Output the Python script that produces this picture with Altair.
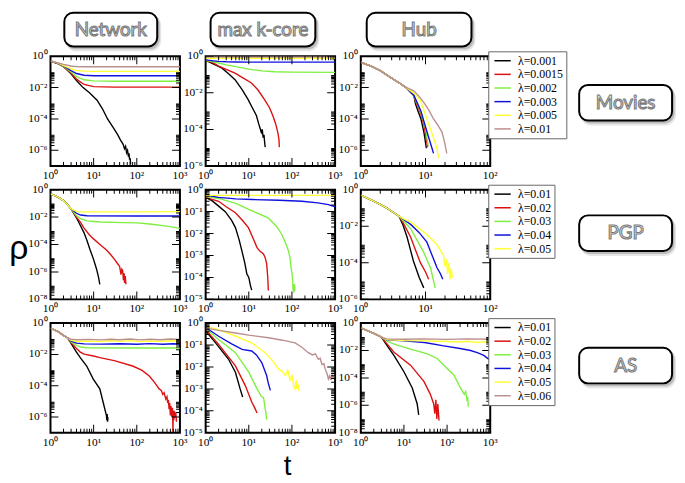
import altair as alt
import pandas as pd

W, H = 131, 111
COLORS = ['#000000', '#dd1111', '#7fef3f', '#1111dd', '#ffff33', '#bc8f8f']

movies_lams = ['λ=0.001', 'λ=0.0015', 'λ=0.002', 'λ=0.003', 'λ=0.005', 'λ=0.01']
pgp_lams = ['λ=0.01', 'λ=0.02', 'λ=0.03', 'λ=0.04', 'λ=0.05']
as_lams = ['λ=0.01', 'λ=0.02', 'λ=0.03', 'λ=0.04', 'λ=0.05', 'λ=0.06']

# values are log10(rho)
# ---------------- Movies / Network ----------------
mn_tp = [1, 1.5, 2, 3, 4, 6, 10, 30, 100, 300, 1000]
mn_t0 = [1, 1.5, 2, 3, 4, 5.7, 8, 12, 16, 21, 28, 36, 42, 48, 52, 55, 58, 61, 64, 66, 68, 70, 72]
mn_r0 = [-0.30, -0.47, -0.66, -1.12, -1.55, -2.0, -2.33, -2.8, -3.35, -4.0, -4.52, -5.0, -5.35, -5.6, -5.9, -5.75, -6.15, -6.0, -6.4, -6.2, -6.6, -6.5, -6.9]
mn_r1 = [-0.30, -0.47, -0.66, -1.07, -1.46, -1.80, -1.94, -1.97, -1.97, -1.97, -1.97]
mn_r2 = [-0.30, -0.47, -0.64, -1.0, -1.30, -1.50, -1.57, -1.59, -1.59, -1.59, -1.59]
mn_r3 = [-0.30, -0.46, -0.62, -0.92, -1.10, -1.21, -1.24, -1.24, -1.24, -1.24, -1.24]
mn_r4 = [-0.30, -0.44, -0.59, -0.80, -0.90, -0.95, -0.96, -0.96, -0.96, -0.96, -0.96]
mn_r5 = [-0.30, -0.42, -0.52, -0.62, -0.66, -0.67, -0.67, -0.67, -0.67, -0.67, -0.67]

# ---------------- Movies / max k-core ----------------
mk_t0 = [1, 1.5, 2.4, 3.5, 4.8, 7, 9.6, 12, 15, 17, 19.5, 20.5, 21.5, 22.5, 23.5, 24]
mk_r0 = [-0.22, -0.42, -0.65, -0.98, -1.28, -1.82, -2.36, -2.8, -3.24, -3.7, -4.16, -4.0, -4.45, -4.3, -4.8, -4.97]
mk_t1 = [1, 1.5, 2, 3, 4.8, 7, 11.5, 16, 23, 30, 36, 42, 47, 50, 51]
mk_r1 = [-0.22, -0.36, -0.54, -0.72, -0.92, -1.15, -1.46, -1.82, -2.36, -2.8, -3.24, -3.7, -4.16, -4.55, -4.97]
mk_t2 = [1, 1.5, 2, 3, 5, 10, 20, 40, 100, 1000]
mk_r2 = [-0.22, -0.3, -0.37, -0.47, -0.57, -0.70, -0.80, -0.85, -0.87, -0.88]
mk_t3 = [1, 1.5, 2, 3, 5, 10, 100, 1000]
mk_r3 = [-0.2, -0.25, -0.28, -0.30, -0.31, -0.32, -0.32, -0.32]
mk_t4 = [1, 10, 100, 1000]
mk_r4 = [-0.11, -0.11, -0.11, -0.11]
mk_t5 = [1, 10, 100, 1000]
mk_r5 = [-0.03, -0.03, -0.03, -0.03]

# ---------------- Movies / Hub ----------------
mh_t0 = [1, 1.5, 2, 3, 4, 5, 6.6, 7, 7.5, 8.5, 9.5, 10.3]
mh_r0 = [-0.38, -0.66, -0.92, -1.4, -1.72, -2.0, -2.5, -3.04, -3.4, -4.0, -4.9, -5.87]
mh_t1 = [1, 1.5, 2, 3, 4, 5, 6.6, 7.2, 8.5, 9.5, 10.5, 10.8]
mh_r1 = [-0.38, -0.66, -0.92, -1.4, -1.72, -2.0, -2.5, -3.0, -3.7, -4.4, -5.5, -5.8]
mh_t2 = [1, 1.5, 2, 3, 4, 5, 6.6, 7.3, 8.7, 10, 11]
mh_r2 = [-0.38, -0.66, -0.92, -1.4, -1.72, -2.0, -2.5, -2.95, -3.7, -4.6, -5.7]
mh_t3 = [1, 1.5, 2, 3, 4, 5, 6.6, 7.4, 8.5, 10.5, 12.6, 13.3]
mh_r3 = [-0.38, -0.66, -0.92, -1.4, -1.72, -2.0, -2.48, -2.94, -3.5, -4.8, -5.87, -6.2]
mh_t4 = [1, 1.5, 2, 3, 4, 5, 6.6, 8.3, 10.3, 11.8, 13.5, 15, 16]
mh_r4 = [-0.38, -0.66, -0.92, -1.4, -1.72, -2.0, -2.35, -2.8, -3.9, -4.6, -5.3, -5.87, -6.5]
mh_t5 = [1, 1.5, 2, 3, 4, 5, 6.6, 8.5, 10, 11.5, 13.3, 15.5, 17.9, 19.5, 21.3]
mh_r5 = [-0.38, -0.66, -0.92, -1.4, -1.72, -1.98, -2.2, -2.7, -3.1, -3.5, -4.0, -4.4, -4.82, -5.4, -6.2]

# ---------------- PGP / Network ----------------
pn_t0 = [1, 1.5, 2, 2.4, 3, 4, 5, 6, 7, 8.3, 10, 11.7, 13, 13.9]
pn_r0 = [-0.3, -0.55, -0.8, -1.05, -1.4, -2.05, -2.65, -3.15, -3.7, -4.4, -5.1, -5.8, -6.4, -6.9]
pn_t1 = [1, 1.5, 2, 2.4, 3, 4, 5, 6, 8, 9.8, 14, 19.8, 25, 30.7, 36, 40, 42, 43, 45, 47, 49, 51, 52, 54, 56]
pn_r1 = [-0.3, -0.55, -0.8, -1.05, -1.4, -2.0, -2.4, -2.8, -3.3, -3.57, -4.0, -4.4, -4.75, -5.1, -5.4, -5.6, -6.0, -6.2, -5.8, -5.9, -6.6, -6.1, -6.8, -6.3, -6.9]
pn_t2 = [1, 1.5, 2, 2.4, 3, 4, 5, 7, 14, 50, 100, 200, 500, 1000]
pn_r2 = [-0.3, -0.55, -0.8, -1.05, -1.4, -1.9, -2.12, -2.28, -2.36, -2.4, -2.42, -2.5, -2.66, -2.82]
pn_t3 = [1, 1.5, 2, 2.4, 3, 4, 5, 7, 100, 1000]
pn_r3 = [-0.3, -0.55, -0.8, -1.05, -1.4, -1.72, -1.85, -1.9, -1.92, -1.92]
pn_t4 = [1, 1.5, 2, 2.4, 3, 4, 5, 10, 100, 1000]
pn_r4 = [-0.3, -0.55, -0.8, -1.05, -1.4, -1.58, -1.62, -1.62, -1.62, -1.6]

# ---------------- PGP / max k-core ----------------
pk_t0 = [1, 1.4, 2, 2.85, 4, 4.9, 6, 6.9, 8, 9, 10, 11, 11.7]
pk_r0 = [-0.35, -0.5, -0.75, -1.0, -1.4, -1.73, -2.3, -2.78, -3.3, -3.83, -4.0, -4.4, -4.58]
pk_t1 = [1, 2, 3, 4.9, 7, 9.8, 12.5, 15.4, 18, 21.9, 24, 26, 27.5, 28.4]
pk_r1 = [-0.35, -0.53, -0.78, -1.05, -1.38, -1.73, -2.2, -2.63, -2.8, -2.93, -3.1, -3.38, -4.0, -4.6]
pk_t2 = [1, 2, 5, 10, 28, 45, 58, 70, 83, 90, 95, 100, 104, 106, 108, 111, 114, 118]
pk_r2 = [-0.3, -0.4, -0.62, -0.9, -1.28, -1.7, -2.03, -2.4, -2.78, -3.1, -3.53, -3.8, -4.1, -4.6, -4.4, -4.7, -4.3, -4.6]
pk_t3 = [1, 2, 5, 12, 50, 170, 400, 700, 1000]
pk_r3 = [-0.25, -0.35, -0.42, -0.45, -0.48, -0.53, -0.6, -0.68, -0.78]
pk_t4 = [1, 10, 100, 1000]
pk_r4 = [-0.26, -0.26, -0.26, -0.26]

# ---------------- PGP / Hub ----------------
ph_t0 = [1, 1.8, 2.5, 3.2, 3.9, 4.5, 5.2, 6.5, 8, 9.4]
ph_r0 = [-0.3, -0.72, -1.0, -1.25, -1.45, -1.95, -2.6, -3.9, -4.8, -5.37]
ph_t1 = [1, 1.8, 2.5, 3.2, 3.9, 4.5, 5.9, 7, 8.3, 10, 11.2]
ph_r1 = [-0.3, -0.72, -1.0, -1.25, -1.45, -1.8, -2.6, -3.3, -3.98, -4.5, -4.9]
ph_t2 = [1, 1.8, 2.5, 3.2, 3.9, 4.5, 5.9, 7.5, 9.4, 12, 14.1]
ph_r2 = [-0.3, -0.72, -1.0, -1.25, -1.45, -1.7, -2.13, -2.8, -3.43, -4.3, -5.37]
ph_t3 = [1, 1.8, 2.5, 3.2, 3.9, 4.5, 5.9, 8, 10.5, 15, 17, 18.5]
ph_r3 = [-0.3, -0.72, -1.0, -1.25, -1.45, -1.62, -1.9, -2.35, -2.87, -4.26, -4.6, -4.9]
ph_t4 = [1, 1.8, 2.5, 3.2, 3.9, 4.5, 5.9, 7.5, 10.5, 15, 19, 20, 21, 22, 23, 24, 25, 26]
ph_r4 = [-0.3, -0.72, -1.0, -1.25, -1.45, -1.58, -1.78, -2.05, -2.45, -3.0, -3.61, -4.2, -3.8, -4.6, -4.0, -4.9, -4.3, -4.8]

# ---------------- AS / Network ----------------
an_t0 = [1, 1.5, 2, 2.5, 3, 4, 4.9, 6.9, 9.8, 13.9, 16.6, 19.8, 20.2, 20.6, 21, 21.5]
an_r0 = [-0.32, -0.55, -0.78, -0.95, -1.3, -1.85, -2.2, -2.74, -3.58, -4.2, -5.05, -5.9, -6.2, -5.8, -6.3, -6.0]
an_t1 = [1, 1.5, 2, 2.5, 3, 4, 4.9, 6, 10, 13.9, 30, 80, 130, 195, 260, 330, 370, 400, 430, 470, 500, 520, 540,
         560, 580, 600, 620, 650, 670, 690, 700, 720, 740, 770, 800, 830]
an_r1 = [-0.32, -0.55, -0.78, -0.95, -1.25, -1.62, -1.85, -1.98, -2.1, -2.2, -2.4, -2.74, -3.0, -3.38, -3.8, -4.2, -4.3,
         -4.55, -4.45, -4.85, -4.7, -5.1, -4.9, -5.5, -5.1, -5.9, -5.3, -6.0, -5.4, -6.95, -5.6, -6.2, -5.6, -6.0, -5.7, -6.3]
an_t2 = [1, 1.5, 2, 2.5, 3, 4, 5, 7, 100, 1000]
an_r2 = [-0.32, -0.55, -0.78, -0.95, -1.2, -1.42, -1.53, -1.58, -1.59, -1.59]
an_t3 = [1, 1.5, 2, 2.5, 3, 4, 6, 15, 40, 100, 200, 400, 700, 1000]
an_r3 = [-0.32, -0.55, -0.78, -0.95, -1.15, -1.28, -1.33, -1.34, -1.32, -1.35, -1.31, -1.35, -1.32, -1.34]
an_t4 = [1, 1.5, 2, 2.5, 3, 4, 8, 15, 25, 40, 70, 120, 200, 350, 600, 1000]
an_r4 = [-0.32, -0.55, -0.78, -0.95, -1.1, -1.16, -1.15, -1.18, -1.13, -1.17, -1.12, -1.18, -1.14, -1.17, -1.13, -1.16]
an_t5 = [1, 1.5, 2, 2.5, 3, 4, 8, 15, 25, 40, 70, 120, 200, 350, 600, 1000]
an_r5 = [-0.32, -0.55, -0.78, -0.95, -1.03, -1.06, -1.04, -1.07, -1.03, -1.06, -1.02, -1.07, -1.03, -1.06, -1.02, -1.05]

# ---------------- AS / max k-core ----------------
ak_t0 = [1, 1.7, 3.4, 4.9, 6.3, 7.2]
ak_r0 = [-0.35, -0.9, -1.65, -2.24, -3.0, -3.37]
ak_t1 = [1, 2, 4.9, 8.3, 11.7, 14, 15.5]
ak_r1 = [-0.3, -0.97, -1.95, -2.85, -3.6, -3.9, -4.1]
ak_t2 = [1, 2, 4.9, 10, 15.5, 20, 22, 24, 25, 26]
ak_r2 = [-0.25, -0.75, -1.35, -2.24, -3.0, -3.37, -3.4, -3.9, -4.1, -4.4]
ak_t3 = [1, 2, 4, 7, 11.7, 15, 20, 26, 28, 31.6]
ak_r3 = [-0.2, -0.6, -0.95, -1.2, -1.27, -1.45, -1.8, -2.4, -2.7, -3.07]
ak_t4 = [1, 2, 5, 11.7, 24, 35, 49, 60, 70, 80, 90, 100, 110, 118, 125, 130, 140, 145]
ak_r4 = [-0.15, -0.3, -0.6, -0.9, -1.35, -1.7, -2.1, -2.2, -2.4, -2.15, -2.6, -2.35, -2.9, -3.0, -2.6, -3.0, -2.8, -3.1]
ak_t5 = [1, 2, 4.9, 10, 29, 60, 118, 170, 240, 300, 350, 410, 450, 500, 550, 590, 650, 700, 750, 800, 850, 900, 950]
ak_r5 = [-0.22, -0.33, -0.45, -0.55, -0.67, -0.78, -0.9, -1.1, -1.35, -1.45, -1.4, -1.65, -1.6, -1.9, -1.85, -2.1, -2.3,
         -2.55, -2.4, -2.6, -2.35, -2.5, -2.4]

# ---------------- AS / Hub ----------------
ah_t0 = [1, 2, 3, 4, 5.9, 10, 15.6, 20.3, 22]
ah_r0 = [-0.35, -0.75, -1.02, -1.6, -2.37, -3.55, -4.73, -5.9, -6.7]
ah_t1 = [1, 2, 3, 4, 5.9, 14.2, 29, 41, 49, 52, 55, 58, 61, 65]
ah_r1 = [-0.35, -0.75, -1.02, -1.5, -2.13, -3.07, -4.25, -5.2, -5.9, -6.6, -5.6, -7.0, -5.9, -7.1]
ah_t2 = [1, 2, 3, 4, 5.9, 14.2, 35, 60, 84, 144, 204, 250, 270, 290, 300, 310]
ah_r2 = [-0.35, -0.75, -1.02, -1.3, -1.53, -1.9, -2.24, -2.6, -3.07, -3.78, -4.73, -5.2, -5.0, -5.67, -5.4, -6.1]
ah_t3 = [1, 2, 3, 4, 10, 30, 84, 200, 350, 500, 710, 1000]
ah_r3 = [-0.35, -0.75, -1.02, -1.22, -1.3, -1.42, -1.66, -1.85, -2.0, -2.15, -2.36, -2.72]
ah_t4 = [1, 2, 3, 4, 10, 30, 100, 200, 300, 500, 700, 1000]
ah_r4 = [-0.35, -0.75, -1.02, -1.2, -1.28, -1.3, -1.34, -1.38, -1.33, -1.42, -1.36, -1.42]
ah_t5 = [1, 2, 3, 4, 10, 30, 100, 300, 1000]
ah_r5 = [-0.35, -0.75, -1.02, -1.15, -1.18, -1.15, -1.19, -1.15, -1.18]

col_titles = ['Network', 'max k-core', 'Hub']
row_titles = ['Movies', 'PGP', 'AS']
tick_label_text = ['10³', '10²', '10¹', '10⁰', '10⁻¹', '10⁻²', '10⁻³', '10⁻⁴', '10⁻⁵', '10⁻⁶', '10⁻⁷', '10⁻⁸']
tick_label_exp = [3, 2, 1, 0, -1, -2, -3, -4, -5, -6, -7, -8]
LAB = dict(zip(tick_label_exp, tick_label_text))
LFONT = 'Liberation Serif'


def series_df(lams, ts, lgs):
    rows = []
    for lam, tt, lg in zip(lams, ts, lgs):
        for a, b in zip(tt, lg):
            rows.append({'lam': lam, 't': a, 'rho': 10.0 ** b})
    return pd.DataFrame(rows)


def tick_rows(lo, hi, step, field):
    rows = []
    for k in range(lo, hi + 1):
        if k % step == 0:
            rows.append({field: 10.0 ** k, 'len': 16})
            if k < hi:
                for m in range(2, 10):
                    rows.append({field: m * 10.0 ** k, 'len': 8})
    return pd.DataFrame(rows)


def make_legend():
    return alt.Legend(orient='none', legendX=129, legendY=-5, title=None,
                      symbolType='M-1.5,0H1.5', symbolSize=121, symbolStrokeWidth=1.5,
                      labelFont=LFONT, labelFontSize=12, labelColor='black',
                      fillColor='white', strokeColor='#666666', padding=3, rowPadding=0.8,
                      symbolOffset=5, labelOffset=9, labelLimit=200)


def box(x0, x1, y0, y1, label, fs=19):
    d = pd.DataFrame({'label': [label]})
    s2 = alt.Chart(d).mark_rect(cornerRadius=11, color='#000000', opacity=0.10).encode(
        x=alt.value(x0 + 1), x2=alt.value(x1 + 4), y=alt.value(y0 + 2), y2=alt.value(y1 + 5))
    s1 = alt.Chart(d).mark_rect(cornerRadius=10, color='#000000', opacity=0.18).encode(
        x=alt.value(x0 + 1), x2=alt.value(x1 + 2.5), y=alt.value(y0 + 1), y2=alt.value(y1 + 3))
    rect = alt.Chart(d).mark_rect(cornerRadius=9, fill='white', stroke='black', strokeWidth=2).encode(
        x=alt.value(x0), x2=alt.value(x1), y=alt.value(y0), y2=alt.value(y1))
    cx, cy = (x0 + x1) / 2, (y0 + y1) / 2
    tx = alt.Chart(d).mark_text(font='Lato', fontSize=fs, fill='#f4f4f4', stroke='#7a7a7a',
                                strokeWidth=1.1).encode(
        x=alt.value(cx), y=alt.value(cy), text='label:N')
    return [s2, s1, rect, tx]


def panel(df, lams, xexp, yexp, ystep, legend=None, extras=()):
    xs = alt.Scale(type='log', domain=[10.0 ** xexp[0], 10.0 ** xexp[1]], nice=False)
    ys = alt.Scale(type='log', domain=[10.0 ** yexp[0], 10.0 ** yexp[1]], nice=False)
    xk = list(range(xexp[0], xexp[1] + 1))
    yk = [k for k in range(yexp[0], yexp[1] + 1) if k % ystep == 0]
    lines = alt.Chart(df).mark_line(clip=True, strokeWidth=1.4).encode(
        x=alt.X('t:Q', scale=xs, axis=None),
        y=alt.Y('rho:Q', scale=ys, axis=None),
        color=alt.Color('lam:N', scale=alt.Scale(domain=lams, range=COLORS[:len(lams)]), legend=legend),
    )
    xt = tick_rows(xexp[0], xexp[1], 1, 't')
    yt = tick_rows(yexp[0], yexp[1], ystep, 'rho')
    layers = [lines]
    for yv in (0, H):
        layers.append(alt.Chart(xt).mark_tick(clip=True, thickness=1, color='black', opacity=1,
                                              orient='vertical').encode(
            x=alt.X('t:Q', scale=xs, axis=None), y=alt.value(yv), size=alt.Size('len:Q', scale=None)))
    for xv in (0, W):
        layers.append(alt.Chart(yt).mark_tick(clip=True, thickness=1, color='black', opacity=1,
                                              orient='horizontal').encode(
            y=alt.Y('rho:Q', scale=ys, axis=None), x=alt.value(xv), size=alt.Size('len:Q', scale=None)))
    xl = pd.DataFrame({'t': [10.0 ** k for k in xk], 'lab': [LAB[k] for k in xk]})
    yl = pd.DataFrame({'rho': [10.0 ** k for k in yk], 'lab': [LAB[k] for k in yk]})
    layers.append(alt.Chart(xl).mark_text(font=LFONT, fontSize=11.5, baseline='top', align='center',
                                          color='black').encode(
        x=alt.X('t:Q', scale=xs, axis=None), y=alt.value(H + 4), text='lab:N'))
    layers.append(alt.Chart(yl).mark_text(font=LFONT, fontSize=11.5, baseline='middle', align='right',
                                          color='black').encode(
        y=alt.Y('rho:Q', scale=ys, axis=None), x=alt.value(-3), text='lab:N'))
    layers.extend(extras)
    return alt.layer(*layers).properties(width=W, height=H)


one = pd.DataFrame({'k': [0]})
anchor = alt.Chart(one).mark_rect(opacity=0).encode(
    x=alt.value(-42), x2=alt.value(-41), y=alt.value(-44), y2=alt.value(-43))
rho_lab = alt.Chart(pd.DataFrame({'label': ['ρ']})).mark_text(
    font='Liberation Sans', fontSize=34, baseline='alphabetic').encode(
    x=alt.value(-32), y=alt.value(70), text='label:N')
t_lab = alt.Chart(pd.DataFrame({'label': ['t']})).mark_text(
    font='Liberation Sans', fontSize=28, baseline='alphabetic').encode(
    x=alt.value(83), y=alt.value(154), text='label:N')

m_net = series_df(movies_lams, [mn_t0, mn_tp, mn_tp, mn_tp, mn_tp, mn_tp],
                  [mn_r0, mn_r1, mn_r2, mn_r3, mn_r4, mn_r5])
m_kc = series_df(movies_lams, [mk_t0, mk_t1, mk_t2, mk_t3, mk_t4, mk_t5],
                 [mk_r0, mk_r1, mk_r2, mk_r3, mk_r4, mk_r5])
m_hub = series_df(movies_lams, [mh_t0, mh_t1, mh_t2, mh_t3, mh_t4, mh_t5],
                  [mh_r0, mh_r1, mh_r2, mh_r3, mh_r4, mh_r5])
p_net = series_df(pgp_lams, [pn_t0, pn_t1, pn_t2, pn_t3, pn_t4], [pn_r0, pn_r1, pn_r2, pn_r3, pn_r4])
p_kc = series_df(pgp_lams, [pk_t0, pk_t1, pk_t2, pk_t3, pk_t4], [pk_r0, pk_r1, pk_r2, pk_r3, pk_r4])
p_hub = series_df(pgp_lams, [ph_t0, ph_t1, ph_t2, ph_t3, ph_t4], [ph_r0, ph_r1, ph_r2, ph_r3, ph_r4])
a_net = series_df(as_lams, [an_t0, an_t1, an_t2, an_t3, an_t4, an_t5],
                  [an_r0, an_r1, an_r2, an_r3, an_r4, an_r5])
a_kc = series_df(as_lams, [ak_t0, ak_t1, ak_t2, ak_t3, ak_t4, ak_t5],
                 [ak_r0, ak_r1, ak_r2, ak_r3, ak_r4, ak_r5])
a_hub = series_df(as_lams, [ah_t0, ah_t1, ah_t2, ah_t3, ah_t4, ah_t5],
                  [ah_r0, ah_r1, ah_r2, ah_r3, ah_r4, ah_r5])

HY0, HY1 = -44, -10
p11 = panel(m_net, movies_lams, (0, 3), (-7, 0), 2, extras=[anchor] + box(14, 108, HY0, HY1, col_titles[0]))
p12 = panel(m_kc, movies_lams, (0, 3), (-6, 0), 2, extras=box(5, 111, HY0, HY1, col_titles[1]))
p13 = panel(m_hub, movies_lams, (0, 2), (-7, 0), 2, legend=make_legend(),
            extras=box(6, 112, HY0, HY1, col_titles[2]) + box(221, 315, 29, 65, row_titles[0]))
p21 = panel(p_net, pgp_lams, (0, 3), (-8, 0), 2, extras=[rho_lab])
p22 = panel(p_kc, pgp_lams, (0, 3), (-5, 0), 1)
p23 = panel(p_hub, pgp_lams, (0, 2), (-6, 0), 2, legend=make_legend(),
            extras=box(221, 315, 26, 62, row_titles[1]))
p31 = panel(a_net, as_lams, (0, 3), (-7, 0), 2)
p32 = panel(a_kc, as_lams, (0, 3), (-5, 0), 1, extras=[t_lab])
p33 = panel(a_hub, as_lams, (0, 3), (-8, 0), 2, legend=make_legend(),
            extras=box(221, 315, 25, 61, row_titles[2]))

chart = alt.concat(p11, p12, p13, p21, p22, p23, p31, p32, p33, columns=3,
                   spacing={'row': 24, 'column': 26}, bounds='flush').resolve_scale(
    x='independent', y='independent', color='independent').resolve_legend(color='independent')

chart = chart.properties(padding=0, background='white').configure_view(
    stroke='black', strokeWidth=2)

chart.save("out.html", embed_options={"renderer": "svg", "actions": False})
